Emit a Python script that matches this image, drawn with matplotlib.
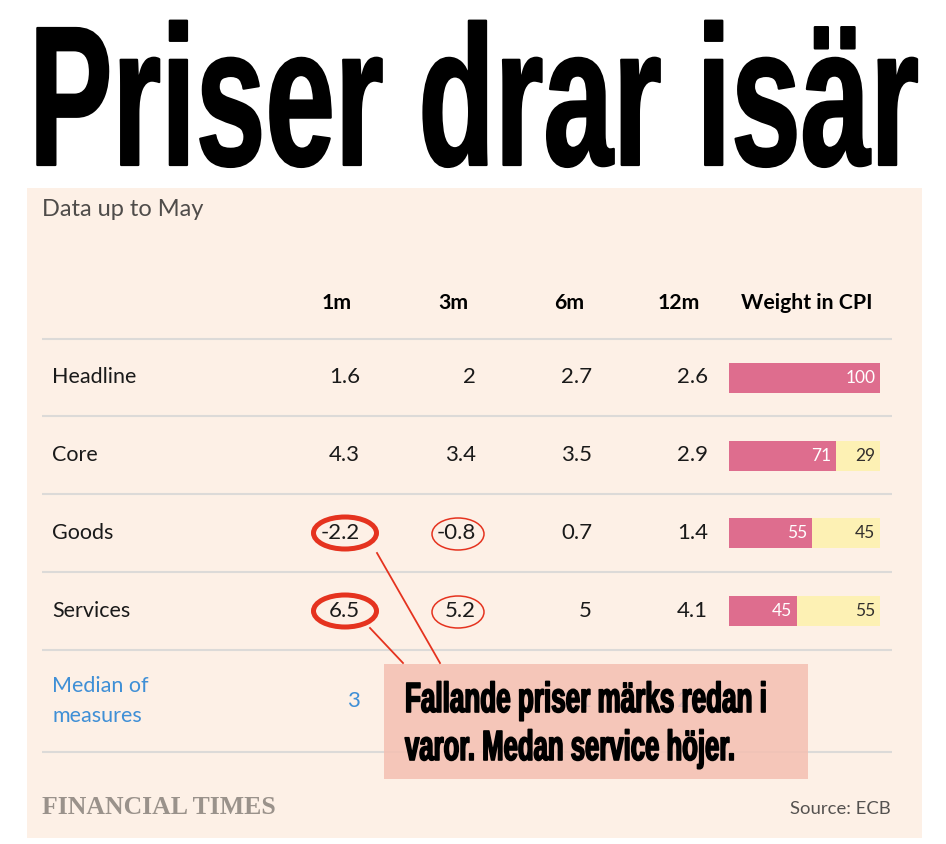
import numpy as np
import matplotlib
matplotlib.use("Agg")
import matplotlib.pyplot as plt  # noqa: E402
from matplotlib.patches import Rectangle, Ellipse  # noqa: E402
from matplotlib.patheffects import AbstractPathEffect  # noqa: E402
from matplotlib.transforms import Affine2D  # noqa: E402

W, H = 946, 844

TITLE = "Priser drar isär"
SUBTITLE = "Data up to May"
NOTE_LINES = ["Fallande priser märks redan i", "varor. Medan service höjer."]
SOURCE = "Source: ECB"
LOGO = "FINANCIAL TIMES"

rows = ["Headline", "Core", "Goods", "Services", "Median of\nmeasures"]
periods = ["1m", "3m", "6m", "12m"]
m1 = [1.6, 4.3, -2.2, 6.5, 3]
m3 = [2, 3.4, -0.8, 5.2, 2.7]
m6 = [2.7, 3.5, 0.7, 5, 3.1]
m12 = [2.6, 2.9, 1.4, 4.1, 2.9]
weight_pink = [100, 71, 55, 45]
weight_yellow = [0, 29, 45, 55]

# (column, row) of the circled cells
circled_thick = [(0, 2), (0, 3)]
circled_thin = [(1, 2), (1, 3)]

BG = "#fdf0e6"
PINK = "#de6d8e"
YELLOW = "#fdf1b4"
RULE = "#dcdad8"
BLUE = "#3f8fd6"
RED = "#e5331f"
NOTE_BG = "#f4bfb2"
SANS = ["Lato", "DejaVu Sans"]
COND = ["Liberation Sans", "DejaVu Sans"]
CAP = 0.688                      # cap height / em, Liberation Sans Bold

# layout, pixels from the top-left corner
col_right = [360, 476, 592, 708]
row_y = [377, 455, 533, 611, 701]
rule_y = [339, 416, 494, 572, 650, 752]
head_y = 303
bar_x0, bar_x1 = 729, 880


class Squeeze(AbstractPathEffect):
    """stretch glyph outlines vertically about the baseline, with an
    optional outline stroke to fatten them."""

    def __init__(self, sy, y0, lw=0.0):
        super().__init__()
        self._t = Affine2D().translate(0, -y0).scale(1, sy).translate(0, y0)
        self._lw = lw

    def draw_path(self, renderer, gc, tpath, affine, rgbFace=None):
        aff = affine + self._t
        if self._lw:
            gc0 = renderer.new_gc()
            gc0.copy_properties(gc)
            gc0.set_linewidth(self._lw)
            gc0.set_foreground(rgbFace)
            gc0.set_joinstyle("round")
            renderer.draw_path(gc0, tpath, aff, rgbFace)
            gc0.restore()
        else:
            renderer.draw_path(gc, tpath, aff, rgbFace)


fig = plt.figure(figsize=(W / 100, H / 100), dpi=100)
fig.patch.set_facecolor("white")
ax = fig.add_axes([0, 0, 1, 1])
ax.set_xlim(0, W)
ax.set_ylim(H, 0)
ax.axis("off")

ax.add_patch(Rectangle((27, 188), 895, 650, fc=BG, ec="none", zorder=0))


def condensed(x, y, s, width, cap, lw, zorder=5):
    """tall narrow headline type: fit the width, then stretch to cap."""
    t = ax.text(x, y, s, fontsize=100, fontweight="bold", family=COND,
                color="black", ha="left", va="baseline", zorder=zorder)
    fig.canvas.draw()
    size = 100 * width / t.get_window_extent().width
    t.set_fontsize(size)
    sy = cap / (CAP * size * 100 / 72)
    t.set_path_effects([Squeeze(sy, H - y, lw)])
    return t


condensed(29, 165, TITLE, 890, 137, 1.6)

ax.text(42, 210, SUBTITLE, fontsize=17, family=SANS, color="#4f4c4a",
        ha="left", va="center")

# header
for j, p in enumerate(periods):
    ax.text(col_right[j] - 8, head_y, p, fontsize=15.3, fontweight="bold",
            family=SANS, color="black", ha="right", va="center")
ax.text(741, head_y, "Weight in CPI", fontsize=15.3, fontweight="bold",
        family=SANS, color="black", ha="left", va="center")

for y in rule_y:
    ax.plot([42, 892], [y, y], color=RULE, lw=1.5, zorder=1,
            solid_capstyle="butt")

cols = [m1, m3, m6, m12]
for i, lab in enumerate(rows):
    median = i == len(rows) - 1
    c = BLUE if median else "#1a1a1a"
    ax.text(52, row_y[i], lab, fontsize=15.5, family=SANS, color=c,
            ha="left", va="center", linespacing=1.65)
    for j, vals in enumerate(cols):
        ax.text(col_right[j], row_y[i], f"{vals[i]:g}", fontsize=16,
                family=SANS, color=c, ha="right", va="center", zorder=2)

# weight bars
bax = fig.add_axes([bar_x0 / W, (H - rule_y[4]) / H,
                    (bar_x1 - bar_x0) / W, (rule_y[4] - rule_y[0]) / H])
bax.set_xlim(0, 100)
bax.set_ylim(len(weight_pink) - 0.5, -0.5)
bax.axis("off")
yy = np.arange(len(weight_pink))
bax.barh(yy, weight_pink, height=0.385, color=PINK, lw=0)
bax.barh(yy, weight_yellow, left=weight_pink, height=0.385, color=YELLOW,
         lw=0)
for k in yy:
    bax.text(weight_pink[k] - 3, k, f"{weight_pink[k]}", color="white",
             fontsize=12.5, family=SANS, ha="right", va="center")
    if weight_yellow[k]:
        bax.text(97, k, f"{weight_yellow[k]}", color="#33302e",
                 fontsize=12.5, family=SANS, ha="right", va="center")

# circles around the highlighted cells
for (j, i) in circled_thick:
    ax.add_patch(Ellipse((col_right[j] - 15, row_y[i]), 63, 32, fc="none",
                         ec=RED, lw=3.6, zorder=6))
for (j, i) in circled_thin:
    ax.add_patch(Ellipse((col_right[j] - 18, row_y[i] + 1), 52, 32,
                         fc="none", ec=RED, lw=1.1, zorder=6))

ax.plot([377, 440], [553, 663], color=RED, lw=1.3, zorder=6)
ax.plot([370, 403], [628, 663], color=RED, lw=1.3, zorder=6)

# callout
ax.add_patch(Rectangle((384, 664), 424, 115, fc=NOTE_BG, ec="none",
                       alpha=0.85, zorder=4))
condensed(405, 712, NOTE_LINES[0], 362, 29, 1.2)
condensed(405, 760, NOTE_LINES[1], 330, 29, 1.2)

ax.text(42, 807, LOGO, fontsize=18.5, fontweight="bold",
        family=["Liberation Serif", "DejaVu Serif"], color="#9a928b",
        ha="left", va="center")
ax.text(891, 809, SOURCE, fontsize=13.3, family=SANS, color="#555250",
        ha="right", va="center")

fig.savefig("out.png", dpi=100, facecolor="white")
